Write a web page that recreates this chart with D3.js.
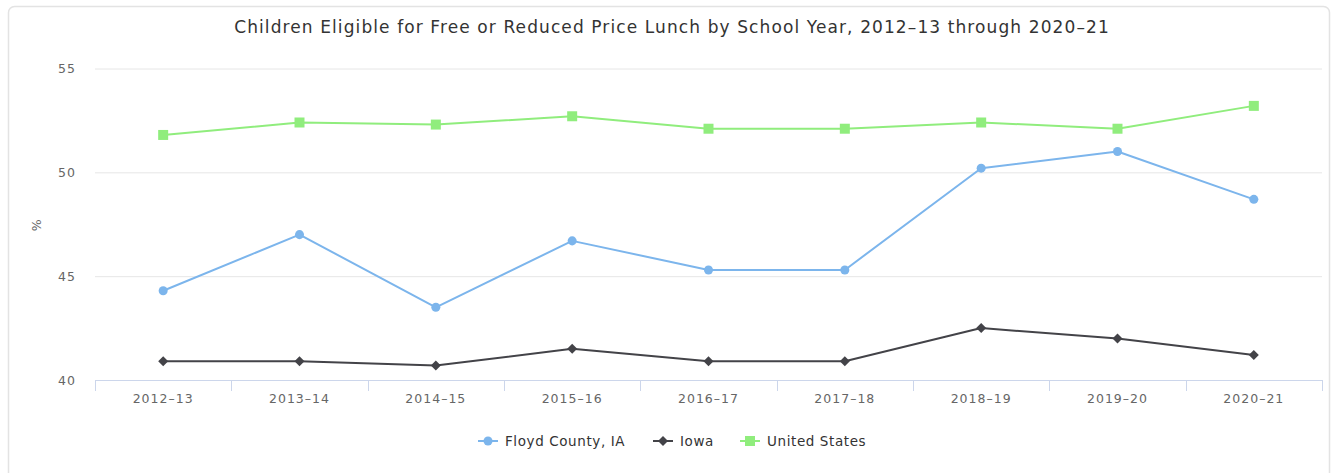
<!DOCTYPE html>
<html>
<head>
<meta charset="utf-8">
<script src="https://cdn.jsdelivr.net/npm/d3@7"></script>
<style>
  html, body { margin: 0; padding: 0; background: #fff; }
  svg { display: block; font-family: "DejaVu Sans", Verdana, sans-serif; }
</style>
</head>
<body>
<svg id="chart" width="1333" height="473"></svg>
<script>
// School years on the x axis
const years = ["2012–13", "2013–14", "2014–15", "2015–16", "2016–17", "2017–18", "2018–19", "2019–20", "2020–21"];
// Percent of children eligible for free or reduced price lunch
const floydCounty = [44.3, 47.0, 43.5, 46.7, 45.3, 45.3, 50.2, 51.0, 48.7];
const iowa = [40.9, 40.9, 40.7, 41.5, 40.9, 40.9, 42.5, 42.0, 41.2];
const unitedStates = [51.8, 52.4, 52.3, 52.7, 52.1, 52.1, 52.4, 52.1, 53.2];
const yTicks = [40, 45, 50, 55];

// the diamond is a square turned 45 degrees
const seriesList = [
  { name: "Floyd County, IA", values: floydCounty, color: "#7cb5ec", symbol: d3.symbolCircle, size: 64, rot: 0 },
  { name: "Iowa", values: iowa, color: "#434348", symbol: d3.symbolSquare, size: 50, rot: 45 },
  { name: "United States", values: unitedStates, color: "#90ed7d", symbol: d3.symbolSquare, size: 100, rot: 0 }
];

const svg = d3.select("#chart");
const W = 1333, H = 473;
const plot = { left: 95, right: 1322, top: 68.5, bottom: 380 };

// card frame
svg.append("rect")
  .attr("x", 8.5).attr("y", 6.5).attr("width", 1321).attr("height", 480)
  .attr("rx", 6).attr("fill", "#fff").attr("stroke", "#e3e3e3").attr("stroke-width", 1.5);

const x = d3.scaleBand().domain(years).range([plot.left, plot.right]);
const y = d3.scaleLinear().domain([40, 55]).range([plot.bottom, plot.top]);

// title
svg.append("text")
  .attr("x", 672).attr("y", 33)
  .attr("text-anchor", "middle")
  .attr("fill", "#333").attr("font-size", 17).attr("letter-spacing", 1.1)
  .text("Children Eligible for Free or Reduced Price Lunch by School Year, 2012–13 through 2020–21");

// gridlines and y labels
const yAxis = d3.axisLeft(y).tickValues(yTicks).tickSize(-(plot.right - plot.left)).tickPadding(19);
const gy = svg.append("g").attr("transform", `translate(${plot.left},0)`).call(yAxis);
gy.select(".domain").remove();
gy.selectAll(".tick line").attr("stroke", "#e6e6e6").attr("stroke-width", 1);
gy.selectAll(".tick text").attr("fill", "#666").attr("font-size", 12.5).attr("letter-spacing", 1)
  .attr("font-family", "DejaVu Sans, sans-serif");

// y axis title
svg.append("text")
  .attr("transform", `translate(41,${(plot.top + plot.bottom) / 2 + 1}) rotate(-90)`)
  .attr("text-anchor", "middle").attr("fill", "#666").attr("font-size", 12.5)
  .text("%");

// x axis with boundary ticks between categories
const gx = svg.append("g").attr("transform", `translate(0,${plot.bottom})`);
gx.append("line").attr("x1", plot.left).attr("x2", plot.right)
  .attr("y1", 0.5).attr("y2", 0.5).attr("stroke", "#ccd6eb");
const bounds = years.map(d => x(d)).concat([x(years[years.length - 1]) + x.bandwidth()]);
gx.selectAll("line.tk").data(bounds).join("line").attr("class", "tk")
  .attr("x1", d => Math.round(d) + 0.5).attr("x2", d => Math.round(d) + 0.5)
  .attr("y1", 0).attr("y2", 11).attr("stroke", "#ccd6eb");
gx.selectAll("text").data(years).join("text")
  .attr("x", d => x(d) + x.bandwidth() / 2).attr("y", 23)
  .attr("text-anchor", "middle").attr("fill", "#666").attr("font-size", 12.5).attr("letter-spacing", 1)
  .text(d => d);

// series lines and markers
const cx = d => x(d) + x.bandwidth() / 2;
const line = d3.line().x((v, i) => cx(years[i])).y(v => y(v));
seriesList.forEach(s => {
  const g = svg.append("g");
  g.append("path").datum(s.values).attr("d", line)
    .attr("fill", "none").attr("stroke", s.color).attr("stroke-width", 2)
    .attr("stroke-linejoin", "round").attr("stroke-linecap", "round");
  g.selectAll("path.m").data(s.values).join("path").attr("class", "m")
    .attr("d", d3.symbol().type(s.symbol).size(s.size))
    .attr("transform", (v, i) => `translate(${cx(years[i])},${y(v)}) rotate(${s.rot})`)
    .attr("fill", s.color);
});

// legend
const legend = svg.append("g").attr("transform", "translate(0,441)");
const legendX = [478, 653, 740];
seriesList.forEach((s, i) => {
  const g = legend.append("g").attr("transform", `translate(${legendX[i]},0)`);
  g.append("line").attr("x1", 0).attr("x2", 20).attr("y1", 0).attr("y2", 0)
    .attr("stroke", s.color).attr("stroke-width", 2);
  g.append("path").attr("d", d3.symbol().type(s.symbol).size(s.size))
    .attr("transform", `translate(10,0) rotate(${s.rot})`)
    .attr("fill", s.color);
  g.append("text").attr("x", 27).attr("y", 5).attr("fill", "#333")
    .attr("font-size", 13.5).attr("letter-spacing", 0.6).text(s.name);
});
</script>
</body>
</html>
